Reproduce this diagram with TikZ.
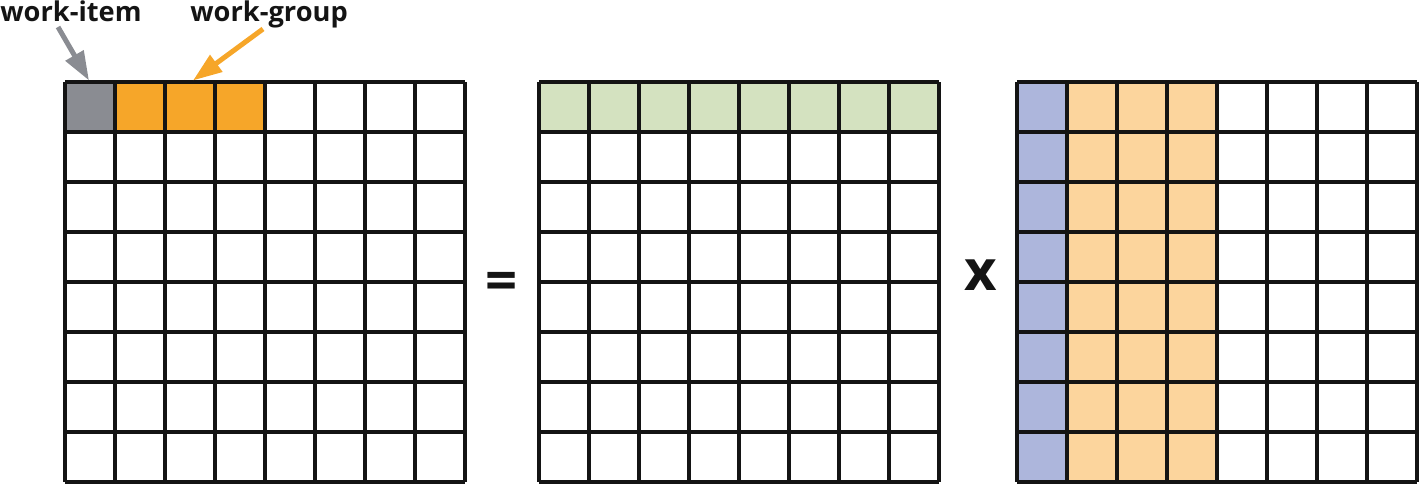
\documentclass[tikz,border=0pt]{standalone}
\usepackage{fontspec}
\setmainfont{Open Sans}
\usetikzlibrary{arrows.meta}
\definecolor{itemgray}{RGB}{138, 140, 146}
\definecolor{grouporange}{RGB}{246, 166, 41}
\definecolor{rowgreen}{RGB}{212, 226, 192}
\definecolor{colblue}{RGB}{173, 182, 220}
\definecolor{colorange}{RGB}{252, 213, 157}
\definecolor{inkblack}{RGB}{20, 20, 20}
\tikzset{
    gridline/.style={inkblack, line width=0.09cm},
    tag/.style={font=\bfseries\fontsize{15.5}{18}\selectfont, inner sep=0pt, text=inkblack},
    opsign/.style={font=\bfseries\fontsize{32}{36}\selectfont, inner sep=0pt, text=inkblack},
    pointer/.style={line width=0.1cm, -{Triangle[length=0.58cm, width=0.4cm]}}
}

\begin{document}
\begin{tikzpicture}
            \useasboundingbox                                              (0.00, 0.00) rectangle (28.42, 9.68);
            \fill[itemgray]                                                ( 1.30, 7.04) rectangle ( 2.30, 8.04);
            \fill[grouporange]                                             ( 2.30, 7.04) rectangle ( 5.30, 8.04);
            \fill[rowgreen]                                                (10.78, 7.04) rectangle (18.78, 8.04);
            \fill[colblue]                                                 (20.34, 0.04) rectangle (21.34, 8.04);
            \fill[colorange]                                               (21.34, 0.04) rectangle (24.34, 8.04);
            \draw[gridline, shift={( 1.30, 0.04)}]                         (0, 0) grid (8, 8);
            \draw[gridline, shift={(10.78, 0.04)}]                         (0, 0) grid (8, 8);
            \draw[gridline, shift={(20.34, 0.04)}]                         (0, 0) grid (8, 8);
            \node[tag, anchor=base west]  (workitem)                       at (0.00, 9.24) {work-item};
            \node[tag, anchor=base west]  (workgroup)                      at (3.80, 9.24) {work-group};
            \coordinate (itemcell)                                         at (1.78, 8.07);
            \coordinate (groupcell)                                        at (3.86, 8.07);
            \draw[pointer, itemgray]      (1.16, 9.14) -- (itemcell);
            \draw[pointer, grouporange]   (5.26, 9.10) -- (groupcell);
            \node[opsign]                 (equals)                         at (10.04, 3.96) {=};
            \node[opsign]                 (times)                          at (19.62, 4.18) {x};
        \end{tikzpicture}
\end{document}
